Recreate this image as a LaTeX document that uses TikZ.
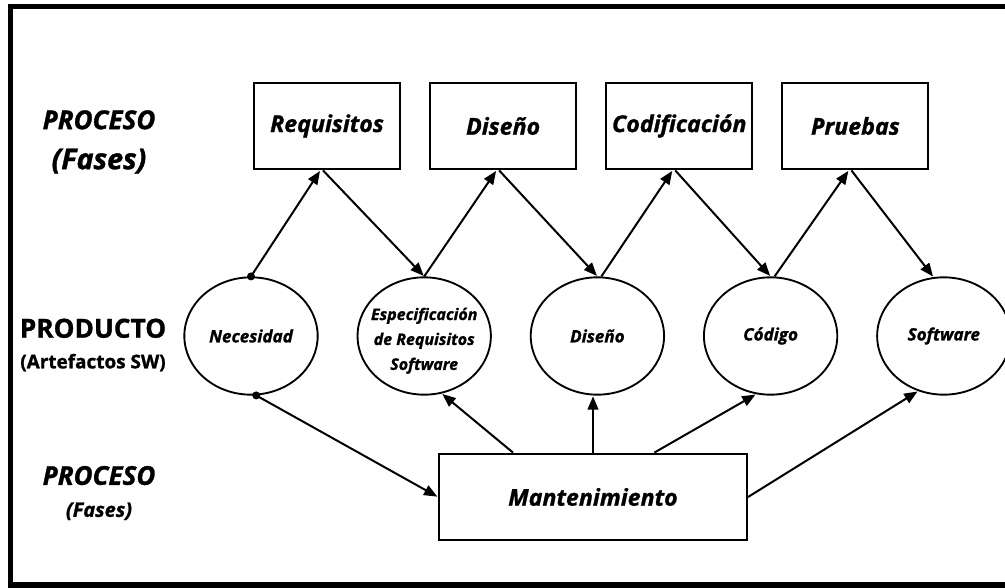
\documentclass[tikz,border=0pt]{standalone}
\usepackage{fontspec}
\setmainfont{Open Sans}[BoldFeatures={FakeBold=1.2}, BoldItalicFeatures={FakeBold=1.2}]
\usepackage{tikz}
\usetikzlibrary{positioning,arrows.meta,shapes.geometric}
\tikzset{
  sw-box/.style={
    draw=black, line width=1.6pt, fill=white,
    font=\fontsize{17.4}{22}\selectfont\bfseries\itshape, align=center,
    inner sep=2pt, minimum width=109.5pt, minimum height=65pt
  },
  sw-ell/.style={
    ellipse, draw=black, line width=1.4pt, fill=white,
    font=\fontsize{12.8}{18.5}\selectfont\bfseries\itshape, align=center,
    inner sep=0pt, minimum width=100pt, minimum height=88pt
  },
  sw-flow/.style={-{Triangle[length=10pt,width=8pt]}, line width=1.5pt,
    draw=black, shorten >=0.5pt},
  sw-dot/.style={fill=black},
  sw-head/.style={align=center}
}
\begin{document}
\begin{tikzpicture}[x=0.75pt, y=-0.75pt]
\useasboundingbox (0,0) rectangle (1005,588);
% marco
\draw[line width=4pt] (1010,6.5) -- (10.5,6.5) -- (10.5,585) -- (1010,585);

% Etiquetas de fila
\node[sw-head, font=\fontsize{19.5}{30}\selectfont\bfseries\itshape] (lblFases)
  at (99,142) {PROCESO\\{\fontsize{21.5}{26}\selectfont (Fases)}};
\node[sw-head, font=\fontsize{19.7}{26}\selectfont\bfseries] (lblProd)
  at (93,345) {PRODUCTO\\[-3pt]{\fontsize{14.2}{16}\selectfont (Artefactos SW)}};
\node[sw-head, font=\fontsize{19.5}{24}\selectfont\bfseries\itshape] (lblMant)
  at (99,493) {PROCESO\\{\fontsize{15}{16}\selectfont (Fases)}};

% Fases
\node[sw-box] (req) at (327,126) {Requisitos};
\node[sw-box, right=21pt of req] (dis) {Diseño};
\node[sw-box, right=21pt of dis] (cod) {Codificación};
\node[sw-box, right=21pt of cod] (pru) {Pruebas};

% Artefactos
\node[sw-ell] (nec) at (251,336) {Necesidad};
\node[sw-ell, right=28.5pt of nec,
  font=\fontsize{12}{18.7}\selectfont\bfseries\itshape] (esp)
  {\raisebox{-6pt}[0pt][0pt]{\makebox[0pt]{\begin{tabular}{@{}c@{}}
  Especificación\\de Requisitos\\Software\end{tabular}}}};
\node[sw-ell, right=28.5pt of esp] (disA) {Diseño};
\node[sw-ell, right=28.5pt of disA] (codA) {Código};
\node[sw-ell, right=28.5pt of codA] (soft) {Software};

% Mantenimiento
\node[sw-box, minimum width=231pt] (mant) at (593,497) {Mantenimiento};

\draw[sw-flow] (nec.north) -- ([xshift=-5pt]req.south);
\draw[sw-flow] ([xshift=-3pt]req.south) -- (esp.north);
\draw[sw-flow] (esp.north) -- ([xshift=-5pt]dis.south);
\draw[sw-flow] ([xshift=-3pt]dis.south) -- (disA.north);
\draw[sw-flow] ([xshift=3pt]disA.north) -- ([xshift=-5pt]cod.south);
\draw[sw-flow] ([xshift=-3pt]cod.south) -- (codA.north);
\draw[sw-flow] ([xshift=3pt]codA.north) -- ([xshift=-5pt]pru.south);
\draw[sw-flow] ([xshift=-3pt]pru.south) -- (soft.100);
\draw[sw-flow] (nec.-85) -- (mant.west);
\draw[sw-flow] ([xshift=-60pt]mant.north) -- (esp.-73);
\draw[sw-flow] (mant.north) -- (mant.north |- disA.south);
\draw[sw-flow] ([xshift=46pt]mant.north) -- (codA.-104);
\draw[sw-flow] (mant.east) -- (soft.-115);
\fill[sw-dot] (nec.north) circle (3pt);
\fill[sw-dot] (nec.-85) circle (3pt);
\end{tikzpicture}
\end{document}
